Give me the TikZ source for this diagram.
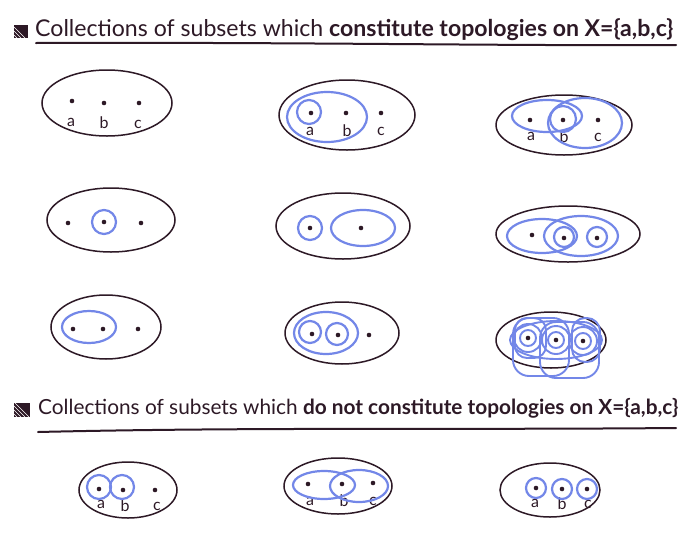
\documentclass[tikz,border=0pt]{standalone}
\usepackage{fontspec}
\setmainfont{Lato}
\definecolor{ink}{RGB}{45,25,38}
\definecolor{penblue}{RGB}{115,135,232}
\tikzset{
  outer/.style={draw=ink, line width=1.5pt},
  bl/.style={draw=penblue, line width=2.2pt},
  pt/.style={circle, fill=ink, inner sep=0pt, minimum size=4.6pt},
  lab/.style={text=ink, font=\fontsize{16}{16}\selectfont, inner sep=0pt},
  ttl/.style={text=ink, anchor=base west, inner sep=0pt},
  uline/.style={draw=ink, line width=2pt, line cap=round}
}
\begin{document}
\begin{tikzpicture}[x=1pt,y=-1pt]
\useasboundingbox (0,0) rectangle (680,552);
\fill[white] (0,0) rectangle (680,552);

% ---------- Title 1 ----------
\fill[ink] (14,25) rectangle (28,38);
\foreach \d in {3,7,11}{\draw[white,line width=0.6pt] (14+\d,38) -- (14,38-\d);}
\node[ttl] (t1) at (35,36) {\resizebox{638pt}{!}{Collections of subsets which \bfseries constitute topologies on X=\{a,b,c\}}};
\coordinate (u1a) at (36,43);
\coordinate (u1b) at (676,45);
\draw[uline] (u1a) .. controls (300,42) and (500,46) .. (u1b);

% ---------- Row 1 ----------
% panel 1
\draw[outer] (107,103) ellipse [x radius=65, y radius=33];
\node[pt] (a1) at (72,101) {}; \node[pt] (b1) at (104,103) {}; \node[pt] (c1) at (139,103) {};
\node[lab] (la1) at (71,122) {a}; \node[lab] (lb1) at (104,123) {b}; \node[lab] (lc1) at (138,124) {c};
% panel 2
\draw[outer] (347,115) ellipse [x radius=68, y radius=35];
\node[pt] (a2) at (311,113) {}; \node[pt] (b2) at (346,113) {}; \node[pt] (c2) at (381,113) {};
\node[lab] (la2) at (310,131) {a}; \node[lab] (lb2) at (347,131) {b}; \node[lab] (lc2) at (381,131) {c};
\draw[bl] (309,112) circle [radius=12];
\draw[bl] (327,117) ellipse [x radius=40, y radius=25];
% panel 3
\draw[outer] (564,125) ellipse [x radius=68, y radius=30];
\node[pt] (a3) at (530,120) {}; \node[pt] (b3) at (563,120) {}; \node[pt] (c3) at (598,120) {};
\node[lab] (la3) at (531,136) {a}; \node[lab] (lb3) at (564,137) {b}; \node[lab] (lc3) at (598,137) {c};
\draw[bl] (563,119) circle [radius=13];
\draw[bl] (547,116) ellipse [x radius=35, y radius=16];
\draw[bl] (585,123) ellipse [x radius=37, y radius=25];

% ---------- Row 2 ----------
% panel 4
\draw[outer] (111,220) ellipse [x radius=64, y radius=32];
\node[pt] (a4) at (68,223) {}; \node[pt] (b4) at (104,222) {}; \node[pt] (c4) at (141,223) {};
\draw[bl] (104,222) circle [radius=12];
% panel 5
\draw[outer] (343,226) ellipse [x radius=67, y radius=33];
\node[pt] (a5) at (310,228) {}; \node[pt] (b5) at (361,228) {};
\draw[bl] (310,228) circle [radius=12];
\draw[bl] (363,228) ellipse [x radius=32, y radius=18];
% panel 6
\draw[outer] (568,234) ellipse [x radius=72, y radius=28];
\node[pt] (a6) at (532,235) {}; \node[pt] (b6) at (564,238) {}; \node[pt] (c6) at (597,238) {};
\draw[bl] (564,237) circle [radius=10];
\draw[bl] (597,237) circle [radius=10];
\draw[bl] (542,236) ellipse [x radius=35, y radius=17];
\draw[bl] (581,236) ellipse [x radius=37, y radius=20];

% ---------- Row 3 ----------
% panel 7
\draw[outer] (106,327) ellipse [x radius=55, y radius=32];
\node[pt] (a7) at (73,329) {}; \node[pt] (b7) at (103,329) {}; \node[pt] (c7) at (138,329) {};
\draw[bl] (89,327) ellipse [x radius=27, y radius=16];
% panel 8
\draw[outer] (342,333) ellipse [x radius=57, y radius=31];
\node[pt] (a8) at (312,334) {}; \node[pt] (b8) at (338,335) {}; \node[pt] (c8) at (369,335) {};
\draw[bl] (310,332) circle [radius=11];
\draw[bl] (337,334) circle [radius=11];
\draw[bl] (326,333) ellipse [x radius=32, y radius=21];
% panel 9
\draw[outer] (551,340) ellipse [x radius=55, y radius=28];
\node[pt] (a9) at (528,338) {}; \node[pt] (b9) at (556,340) {}; \node[pt] (c9) at (583,341) {};
\foreach \p in {(528,338),(556,340),(583,341)}{
  \draw[bl,line width=1.9pt] \p circle [radius=8];
  \draw[bl,line width=1.9pt] \p circle [radius=14];
}
\draw[bl,line width=1.9pt,rounded corners=16pt] (513,318) rectangle (569,376);
\draw[bl,line width=1.9pt,rounded corners=16pt] (540,322) rectangle (599,378);
\draw[bl,line width=1.9pt,rounded corners=12pt] (515,318) rectangle (546,358);
\draw[bl,line width=1.9pt,rounded corners=13pt] (572,318) rectangle (600,362);
\draw[bl,line width=1.9pt] (556,340) ellipse [x radius=46, y radius=19];

% ---------- Title 2 ----------
\fill[ink] (14,403) rectangle (30,417);
\foreach \d in {3,7,11,15}{\draw[white,line width=0.6pt] (14+\d,417) -- (14,417-\d);}
\node[ttl] (t2) at (38,414) {\resizebox{640pt}{!}{Collections of subsets which \bfseries do not constitute topologies on X=\{a,b,c\}}};
\coordinate (u2a) at (38,432);
\coordinate (u2b) at (676,428);
\draw[uline] (u2a) .. controls (250,427) and (450,430) .. (u2b);

% ---------- Row 4 ----------
% panel 10
\draw[outer] (128,490) ellipse [x radius=49, y radius=28];
\node[pt] (a10) at (99,489) {}; \node[pt] (b10) at (123,490) {}; \node[pt] (c10) at (155,490) {};
\node[lab] (la10) at (101,504) {a}; \node[lab] (lb10) at (125,506) {b}; \node[lab] (lc10) at (157,506) {c};
\draw[bl] (99,487) circle [radius=12];
\draw[bl] (122,487) circle [radius=12];
% panel 11
\draw[outer] (338,486) ellipse [x radius=54, y radius=28];
\node[pt] (a11) at (308,484) {}; \node[pt] (b11) at (342,484) {}; \node[pt] (c11) at (373,483) {};
\node[lab] (la11) at (310,501) {a}; \node[lab] (lb11) at (344,501) {b}; \node[lab] (lc11) at (373,501) {c};
\draw[bl] (324,485) ellipse [x radius=31, y radius=14];
\draw[bl] (359,486) ellipse [x radius=29, y radius=16];
% panel 12
\draw[outer] (550,490) ellipse [x radius=50, y radius=27];
\node[pt] (a12) at (536,488) {}; \node[pt] (b12) at (562,489) {}; \node[pt] (c12) at (587,489) {};
\node[lab] (la12) at (535,503) {a}; \node[lab] (lb12) at (562,504) {b}; \node[lab] (lc12) at (588,504) {c};
\draw[bl] (536,488) circle [radius=10];
\draw[bl] (562,489) circle [radius=10];
\draw[bl] (587,489) circle [radius=10];
\end{tikzpicture}
\end{document}
